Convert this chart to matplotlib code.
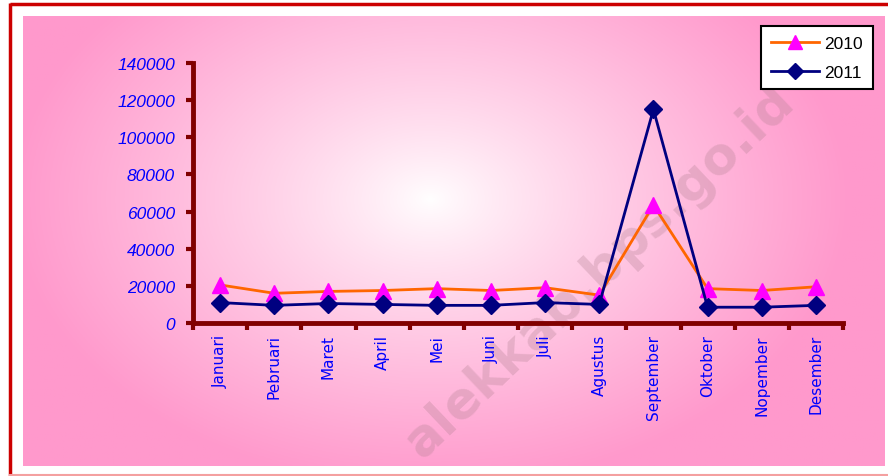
import numpy as np
import matplotlib
matplotlib.use("Agg")
import matplotlib.pyplot as plt

bulan = ["Januari", "Pebruari", "Maret", "April", "Mei", "Juni", "Juli",
         "Agustus", "September", "Oktober", "Nopember", "Desember"]
th2010 = [20500, 16000, 17000, 17500, 18500, 17500, 19000, 15000, 63500, 18500, 17500, 19500]
th2011 = [11000, 9500, 10500, 10000, 9500, 9500, 11000, 10000, 115000, 8500, 8500, 9500]
y_ticks = [0, 20000, 40000, 60000, 80000, 100000, 120000, 140000]

W, H = 888, 477
fig = plt.figure(figsize=(W / 100, H / 100), dpi=100)
fig.patch.set_facecolor("white")

# background layer in pixel coords
bg = fig.add_axes([0, 0, 1, 1])
bg.set_xlim(0, W)
bg.set_ylim(H, 0)
bg.axis("off")

# radial pink gradient
x0, x1, y0, y1 = 23, 884, 17, 467
xx, yy = np.meshgrid(np.linspace(x0, x1, 400), np.linspace(y0, y1, 220))
t = np.sqrt(((xx - 430) / 420) ** 2 + ((yy - 200) / 290) ** 2)
t = np.clip(t, 0, 1) ** 0.85
pink = np.array([255, 153, 204]) / 255
img = (1 - t[..., None]) * np.ones(3) + t[..., None] * pink
bg.imshow(img, extent=[x0, x1, y1, y0], aspect="auto", zorder=0)

# red frame
bg.plot([10, 10], [4, H], color="#CC0000", lw=2.5, solid_capstyle="butt")
bg.plot([10, W], [5, 5], color="#CC0000", lw=2.5, solid_capstyle="butt")
bg.plot([10, W], [476, 476], color="#F4A0A0", lw=1.5)

# watermark
bg.text(600, 272, "alekkab.bps.go.id", rotation=43.5, ha="center", va="center",
        fontsize=37, fontweight="bold", color="#B08090", alpha=0.3,
        family="DejaVu Sans", zorder=1)

ax = fig.add_axes([193 / W, 1 - 324 / H, 650 / W, 260 / H])
ax.patch.set_alpha(0)
x = np.arange(len(bulan))
ax.plot(x, th2010, color="#FF6600", lw=2, marker="^", ms=12,
        markerfacecolor="#FF00FF", markeredgecolor="#FF00FF", label="2010", zorder=3)
ax.plot(x, th2011, color="#000080", lw=2, marker="D", ms=9,
        markerfacecolor="#000080", markeredgecolor="#000080", label="2011", zorder=4)

ax.set_xlim(-0.5, len(bulan) - 0.5)
ax.set_ylim(0, 140000)
ax.set_yticks(y_ticks)
ax.set_yticklabels([str(v) for v in y_ticks], color="#0000FF", style="italic",
                   family="Liberation Sans", fontsize=12.5)
ax.set_xticks(x)
ax.set_xticklabels(bulan, rotation=90, color="#0000FF", family="DejaVu Sans", fontsize=11)
ax.set_xticks(np.arange(-0.5, len(bulan)), minor=True)
ax.tick_params(axis="x", which="major", length=0, pad=8)
ax.tick_params(axis="x", which="minor", length=5, width=3, color="#800000", direction="out")
ax.tick_params(axis="y", length=5, width=3, color="#800000", direction="out", pad=8)

for s in ["top", "right"]:
    ax.spines[s].set_visible(False)
for s in ["left", "bottom"]:
    ax.spines[s].set_color("#800000")
    ax.spines[s].set_linewidth(3.5)

leg = fig.legend(loc="upper left", bbox_to_anchor=(761 / W, 1 - 27 / H), frameon=True,
                 fancybox=False, edgecolor="black", facecolor="white", framealpha=1,
                 prop={"family": "Liberation Sans", "size": 12.5}, handlelength=2.8,
                 borderpad=0.55, labelspacing=0.8, handletextpad=0.3, borderaxespad=0,
                 markerscale=0.85)
leg.get_frame().set_linewidth(1.5)

fig.savefig("out.png", dpi=100)
